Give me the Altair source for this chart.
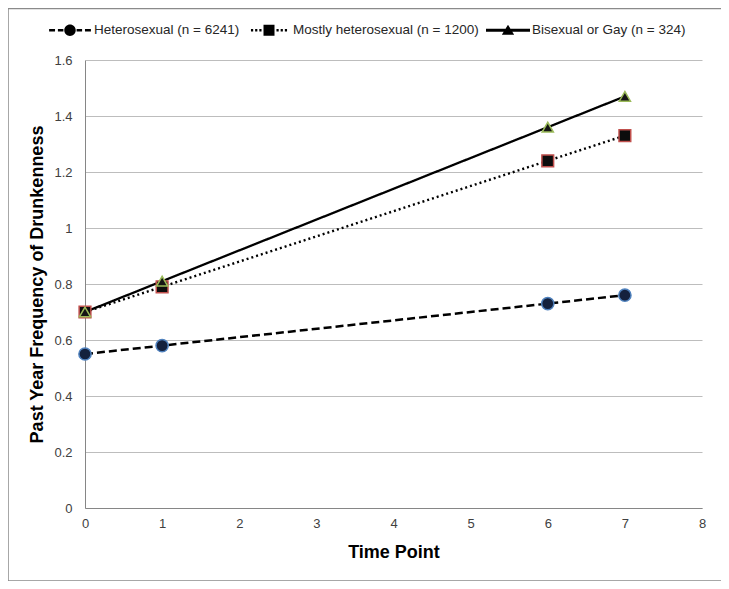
import altair as alt
import pandas as pd

# ---- data ----
time_points = [0, 1, 6, 7]
series_names = ["Heterosexual (n = 6241)", "Mostly heterosexual (n = 1200)", "Bisexual or Gay (n = 324)"]
hetero = [0.55, 0.58, 0.73, 0.76]
mostly = [0.70, 0.79, 1.24, 1.33]
bigay = [0.70, 0.81, 1.36, 1.47]
y_ticks = [0, 0.2, 0.4, 0.6, 0.8, 1, 1.2, 1.4, 1.6]
x_ticks = [0, 1, 2, 3, 4, 5, 6, 7, 8]

rows = []
for name, vals in zip(series_names, [hetero, mostly, bigay]):
    for t, v in zip(time_points, vals):
        rows.append({"series": name, "time": t, "value": v})
df = pd.DataFrame(rows)

# ---- styles ----
LABEL_FONT = "Liberation Sans"
dash_range = [[8, 4], [2, 3], [1, 0]]
width_range = [2.5, 2.3, 2.8]
shape_range = ["circle", "square", "triangle-up"]
fill_range = ["#14213d", "#0d0d0d", "#151515"]
stroke_range = ["#4f81bd", "#c0504d", "#9bbb59"]
size_range = [150, 125, 170]

# legend glyphs: line style + marker drawn as custom symbol paths (unit square -1..1)
def rect(x1, x2, t):
    return f"M{x1},{-t}H{x2}V{t}H{x1}Z"

leg_hetero = (rect(-0.95, -0.68, 0.062) + rect(-0.55, -0.3, 0.062)
              + "M-0.26,0A0.26,0.26 0 1 1 0.26,0A0.26,0.26 0 1 1 -0.26,0Z"
              + rect(0.3, 0.55, 0.062) + rect(0.68, 0.95, 0.062))
leg_mostly = (rect(-0.82, -0.72, 0.055) + rect(-0.63, -0.53, 0.055) + rect(-0.44, -0.34, 0.055)
              + "M-0.25,-0.25H0.25V0.25H-0.25Z"
              + rect(0.34, 0.44, 0.055) + rect(0.53, 0.63, 0.055) + rect(0.72, 0.82, 0.055))
leg_bi = (rect(-1, -0.12, 0.07) + "M0,-0.25L0.28,0.2L-0.28,0.2Z" + rect(0.12, 1, 0.07))
legend_paths = [leg_hetero, leg_mostly, leg_bi]

x_enc = alt.X(
    "time:Q",
    scale=alt.Scale(domain=[0, 8], nice=False),
    axis=alt.Axis(
        values=x_ticks, grid=False, ticks=False, domainColor="#868686", domainWidth=1,
        labelFont=LABEL_FONT, labelFontSize=13, labelColor="#404040", labelPadding=9,
        labelFlush=False,
        title="Time Point", titleFont="Liberation Sans", titleFontSize=18,
        titleFontWeight="bold", titleColor="#000000", titlePadding=13,
    ),
)
y_enc = alt.Y(
    "value:Q",
    scale=alt.Scale(domain=[0, 1.6], nice=False),
    axis=alt.Axis(
        values=y_ticks, format="~g", grid=True, gridColor="#bdbdbd", gridWidth=1,
        ticks=False, domainColor="#868686", domainWidth=1,
        labelFont=LABEL_FONT, labelFontSize=13, labelColor="#404040", labelPadding=13,
        labelFlush=False,
        title="Past Year Frequency of Drunkenness", titleFont="Liberation Sans",
        titleFontSize=18, titleFontWeight="bold", titleColor="#000000", titlePadding=7,
    ),
)

base = alt.Chart(df)

frame = alt.Chart(pd.DataFrame({"a": [0]})).mark_rect(
    filled=False, stroke="#8a8a8a", strokeWidth=1.5
).encode(
    x=alt.value(-77), x2=alt.value(637), y=alt.value(-51.5), y2=alt.value(521)
)

lines = base.mark_line().encode(
    x=x_enc,
    y=y_enc,
    detail="series:N",
    color=alt.value("#000000"),
    strokeDash=alt.StrokeDash("series:N", scale=alt.Scale(domain=series_names, range=dash_range), legend=None),
    strokeWidth=alt.StrokeWidth("series:N", scale=alt.Scale(domain=series_names, range=width_range), legend=None),
)

points = base.mark_point(filled=True, opacity=1, strokeWidth=1.5).encode(
    x=x_enc,
    y=y_enc,
    shape=alt.Shape("series:N", scale=alt.Scale(domain=series_names, range=shape_range), legend=None),
    fill=alt.Fill("series:N", scale=alt.Scale(domain=series_names, range=fill_range), legend=None),
    stroke=alt.Stroke("series:N", scale=alt.Scale(domain=series_names, range=stroke_range), legend=None),
    size=alt.Size("series:N", scale=alt.Scale(domain=series_names, range=size_range), legend=None),
)

legend_layer = base.mark_point(filled=True, size=0, fill="#000000", strokeWidth=0).encode(
    x=x_enc,
    y=y_enc,
    shape=alt.Shape(
        "series:N",
        scale=alt.Scale(domain=series_names, range=legend_paths),
        legend=alt.Legend(
            title=None, orient="none", legendX=-37, legendY=-52, direction="horizontal",
            symbolSize=1936, symbolStrokeWidth=0, symbolFillColor="#000000",
            symbolOpacity=1,
            labelFont=LABEL_FONT, labelFontSize=13.5, labelColor="#262626",
            labelOffset=2, columnPadding=7, labelLimit=400,
        ),
    ),
)

chart = alt.layer(frame, lines, points, legend_layer).resolve_scale(
    shape="independent"
).properties(
    width=617,
    height=448,
    padding={"left": 77, "top": 52, "right": 19, "bottom": 73},
    autosize=alt.AutoSizeParams(type="none"),
).configure_view(strokeWidth=0)

chart.save("out.html", embed_options={"renderer": "svg", "actions": False})
